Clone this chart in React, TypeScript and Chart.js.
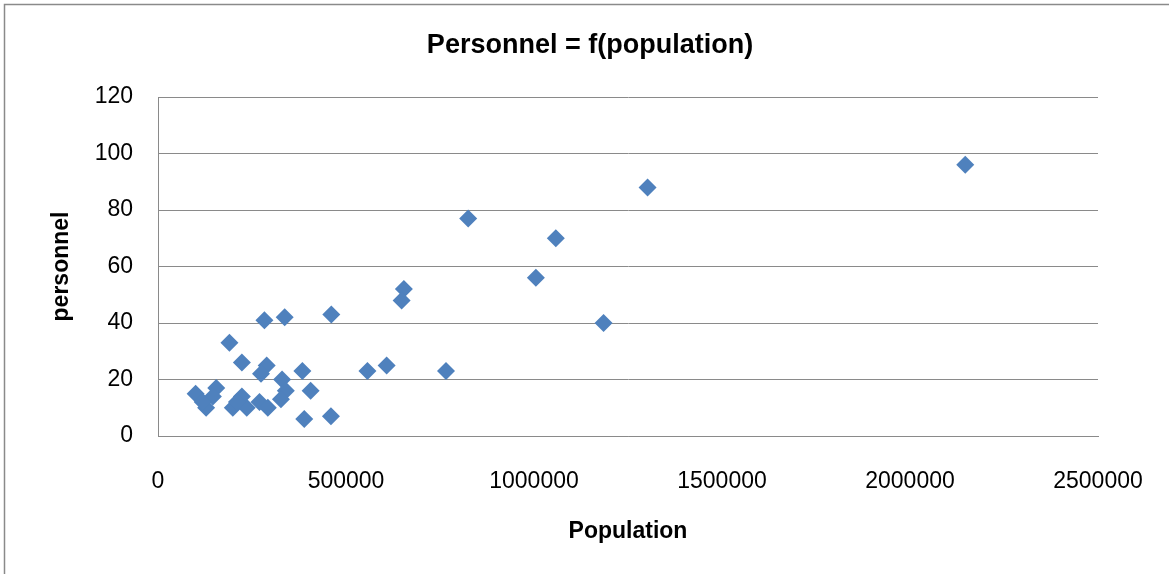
import { useEffect, useRef } from "react";
import { Chart, registerables } from "chart.js";

Chart.register(...registerables);

// Population (x) and personnel (y) values
const populationValues = [
  2147000, 1302000, 825000, 1058000, 1005000, 1185000, 654000, 648000,
  461000, 337000, 283000, 190000, 223000, 289000, 608000, 557000,
  766000, 384000, 274000, 330000, 340000, 406000, 389000, 460000,
  100000, 128000, 155000, 146000, 119000, 199000, 223000, 236000,
  270000, 292000, 327000, 210000,
];
const personnelValues = [
  96, 88, 77, 70, 56, 40, 52, 48,
  43, 42, 41, 33, 26, 25, 25, 23,
  23, 23, 22, 20, 16, 16, 6, 7,
  15, 10, 17, 14, 12, 10, 14, 10,
  12, 10, 13, 12,
];
const xTickValues = [0, 500000, 1000000, 1500000, 2000000, 2500000];
const yTickValues = [0, 20, 40, 60, 80, 100, 120];

const chartTitle = "Personnel = f(population)";
const xAxisTitle = "Population";
const yAxisTitle = "personnel";

const FAMILY = "'Liberation Sans', Arial, sans-serif";

export default function App() {
  const ref = useRef<HTMLCanvasElement>(null);

  useEffect(() => {
    if (!ref.current) return;
    const framePlugin = {
      id: "frame",
      beforeDraw(chart: any) {
        const ctx = chart.ctx;
        ctx.save();
        ctx.fillStyle = "#ffffff";
        ctx.fillRect(0, 0, chart.width, chart.height);
        ctx.strokeStyle = "#8a8a8a";
        ctx.lineWidth = 1.5;
        ctx.beginPath();
        ctx.moveTo(4.5, chart.height);
        ctx.lineTo(4.5, 4.5);
        ctx.lineTo(chart.width, 4.5);
        ctx.stroke();
        ctx.restore();
      },
      afterDraw(chart: any) {
        const ctx = chart.ctx;
        ctx.save();
        ctx.fillStyle = "#000";
        ctx.font = `bold 27px ${FAMILY}`;
        ctx.textAlign = "center";
        ctx.textBaseline = "middle";
        ctx.fillText(chartTitle, 590, 46);
        ctx.restore();
      },
    };

    const chart = new Chart(ref.current, {
      type: "scatter",
      data: {
        datasets: [
          {
            data: populationValues.map((x, i) => ({ x, y: personnelValues[i] })),
            pointStyle: "rectRot",
            pointRadius: 9,
            pointHoverRadius: 9,
            backgroundColor: "#4F81BD",
            borderColor: "#4F81BD",
            borderWidth: 0,
          },
        ],
      },
      options: {
        responsive: false,
        animation: false,
        devicePixelRatio: 1,
        layout: { padding: { left: 0, right: 71, top: 97, bottom: 0 } },
        plugins: {
          legend: { display: false },
          tooltip: { enabled: false },
          title: { display: false },
        },
        scales: {
          x: {
            type: "linear",
            min: 0,
            max: 2500000,
            afterBuildTicks: (s: any) => {
              s.ticks = xTickValues.map((v) => ({ value: v }));
            },
            grid: { drawOnChartArea: false, drawTicks: false, color: "#8a8a8a" },
            border: { color: "#8a8a8a" },
            ticks: {
              padding: 32,
              color: "#000",
              maxRotation: 0,
              autoSkip: false,
              font: { family: FAMILY, size: 23 },
              callback: (v: any) => String(v),
            },
            title: {
              display: true,
              text: xAxisTitle,
              color: "#000",
              font: { family: FAMILY, size: 23, weight: "bold" },
              padding: { top: 0, bottom: 29 },
            },
            afterFit: (s: any) => {
              s.height = 138;
              s.paddingLeft = 0;
              s.paddingRight = 0;
            },
          },
          y: {
            type: "linear",
            min: 0,
            max: 120,
            afterBuildTicks: (s: any) => {
              s.ticks = yTickValues.map((v) => ({ value: v }));
            },
            grid: { color: "#8a8a8a", drawTicks: false },
            border: { color: "#8a8a8a" },
            ticks: {
              padding: 25,
              color: "#000",
              font: { family: FAMILY, size: 23 },
              callback: (v: any) => String(v),
            },
            title: {
              display: true,
              text: yAxisTitle,
              color: "#000",
              font: { family: FAMILY, size: 23, weight: "bold" },
              padding: { top: 48, bottom: 0 },
            },
            afterFit: (s: any) => {
              s.width = 158;
              s.paddingTop = 0;
              s.paddingBottom = 0;
            },
          },
        },
      },
      plugins: [framePlugin],
    });
    return () => chart.destroy();
  }, []);

  return (
    <div style={{ position: "fixed", left: 0, top: 0, width: 1169, height: 574, background: "#fff" }}>
      <canvas ref={ref} width={1169} height={574} style={{ display: "block" }} />
    </div>
  );
}
